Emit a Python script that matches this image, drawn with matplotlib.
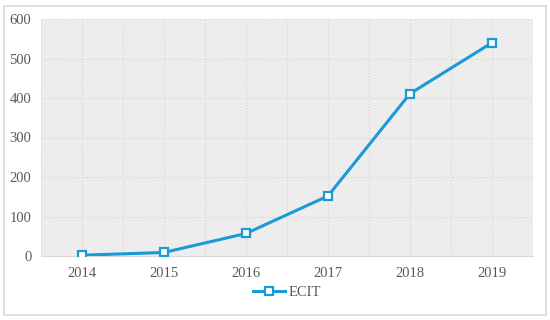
import matplotlib.pyplot as plt
from matplotlib.patches import Rectangle

years = ['2014', '2015', '2016', '2017', '2018', '2019']
ecit = [2, 9, 57, 152, 411, 540]

plt.rcParams['font.family'] = ['Liberation Serif', 'DejaVu Serif']
plt.rcParams['hatch.color'] = '#dcdcdc'
plt.rcParams['hatch.linewidth'] = 0.7

fig = plt.figure(figsize=(5.5, 3.2), dpi=100)
ax = fig.add_axes([41 / 550, 64 / 320, 492 / 550, 237 / 320])

# outer chart border
fig.patches.append(Rectangle((4 / 550, 5 / 320), 542 / 550, 309 / 320, transform=fig.transFigure,
                             fill=False, edgecolor='#d9d9d9', linewidth=1.2))

# hatched plot background
ax.add_patch(Rectangle((0, 0), 1, 1, transform=ax.transAxes, facecolor='white',
                       hatch='\\' * 12, edgecolor='#dcdcdc', linewidth=0, zorder=0))

x = list(range(1, len(years) + 1))
ax.plot(x, ecit, color='#1a9ad6', linewidth=2.2, marker='s', markersize=6,
        markerfacecolor='white', markeredgecolor='#1a9ad6', markeredgewidth=1.6,
        label='ECIT', zorder=3)

ax.set_xlim(0.5, 6.5)
ax.set_ylim(0, 600)
ax.set_xticks(x)
ax.set_xticklabels(years)
ax.set_yticks(range(0, 601, 100))

# gridlines every half category and every 100
for gx in [0.5 + 0.5 * i for i in range(13)]:
    ax.axvline(gx, color='#e3e3e3', linewidth=0.8, zorder=1)
for gy in range(100, 601, 100):
    ax.axhline(gy, color='#e3e3e3', linewidth=0.8, zorder=1)

for s in ['top', 'right', 'left']:
    ax.spines[s].set_visible(False)
ax.spines['bottom'].set_color('#d9d9d9')
ax.spines['bottom'].set_zorder(2)
ax.tick_params(length=0, labelsize=10.5, labelcolor='#595959')
ax.tick_params(axis='x', pad=8)
ax.tick_params(axis='y', pad=7)

ax.legend(loc='center', bbox_to_anchor=(0.5, -0.152), frameon=False, fontsize=10.5,
          labelcolor='#595959', handlelength=2.2, handletextpad=0.2)

fig.savefig('out.png', dpi=100)
